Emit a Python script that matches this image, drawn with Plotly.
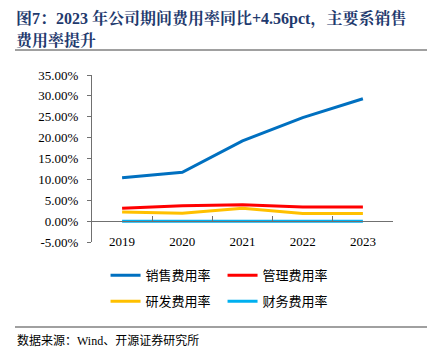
import plotly.graph_objects as go

years = ["2019", "2020", "2021", "2022", "2023"]
sales = [10.4, 11.7, 19.2, 24.8, 29.3]
admin = [3.1, 3.7, 3.9, 3.4, 3.4]
rnd = [2.2, 1.9, 3.1, 1.8, 1.8]
fin = [-0.05, -0.05, 0.0, -0.05, -0.05]

names = ["销售费用率", "管理费用率", "研发费用率", "财务费用率"]
colors = ["#0070C0", "#FF0000", "#FFC000", "#00B0F0"]
series = [sales, admin, rnd, fin]
legends = ["legend", "legend", "legend2", "legend2"]

yticks = [-5, 0, 5, 10, 15, 20, 25, 30, 35]
yticktext = [f"{v:.2f}%" for v in yticks]

title_lines = ["图7：2023 年公司期间费用率同比+4.56pct，主要系销售", "费用率提升"]
source_text = "数据来源：Wind、开源证券研究所"

fig = go.Figure()
for name, vals, c, lg in zip(names, series, colors, legends):
    fig.add_trace(go.Scatter(x=years, y=vals, name=name, mode="lines",
                             line=dict(color=c, width=3), legend=lg))

serif = "Liberation Serif, Times New Roman, Noto Serif CJK SC, Noto Sans CJK SC"
cjk = "Liberation Serif, Noto Sans CJK SC"

fig.update_layout(
    width=429, height=352,
    margin=dict(l=84, r=44, t=67, b=118, autoexpand=False),
    paper_bgcolor="white", plot_bgcolor="white",
    showlegend=True,
    xaxis=dict(type="category", range=[-0.5, 4.5], anchor="free", position=0.125,
               showline=True, linecolor="#707070", linewidth=1,
               ticks="inside", tickson="boundaries", ticklen=5, tickcolor="#707070",
               showgrid=False, zeroline=False, automargin=False,
               tickfont=dict(family=serif, size=13, color="black"),
               ticklabelstandoff=8),
    yaxis=dict(range=[-5, 35], tickvals=yticks, ticktext=yticktext,
               showline=True, linecolor="#707070", linewidth=1,
               ticks="outside", ticklen=4, tickcolor="#707070",
               showgrid=False, zeroline=False, automargin=False,
               tickfont=dict(family=serif, size=13, color="black"),
               ticklabelstandoff=6),
    legend=dict(orientation="h", x=0.045, y=-0.11, xanchor="left", yanchor="top",
                entrywidth=72, entrywidthmode="pixels",
                font=dict(family=cjk, size=13, color="black"),
                bgcolor="rgba(0,0,0,0)"),
    legend2=dict(orientation="h", x=0.045, y=-0.265, xanchor="left", yanchor="top",
                 entrywidth=72, entrywidthmode="pixels",
                 font=dict(family=cjk, size=13, color="black"),
                 bgcolor="rgba(0,0,0,0)"),
)

fig.add_annotation(xref="paper", yref="paper", x=-77/301, y=1 + 67/167,
                   xanchor="left", yanchor="top", align="left", showarrow=False,
                   borderpad=0, text=f"<b>{title_lines[0]}</b>",
                   font=dict(family=serif, size=16, color="#1F3A6E"))
fig.add_annotation(xref="paper", yref="paper", x=-77/301, y=1 + 35/167,
                   xanchor="left", yanchor="middle", align="left", showarrow=False,
                   borderpad=0, text=f"<b>{title_lines[1]}</b>",
                   font=dict(family=serif, size=16, color="#1F3A6E"))
fig.add_annotation(xref="paper", yref="paper", x=-77/301, y=-(340 - 242) / 167,
                   xanchor="left", yanchor="middle", align="left", showarrow=False,
                   text=source_text,
                   font=dict(family=cjk, size=12, color="black"))

fig.add_shape(type="line", xref="paper", yref="paper",
              x0=-77/301, x1=335/301, y0=1 + 25/167, y1=1 + 25/167,
              line=dict(color="#808080", width=1.5))
fig.add_shape(type="line", xref="paper", yref="paper",
              x0=-77/301, x1=335/301, y0=-(327 - 242) / 167, y1=-(327 - 242) / 167,
              line=dict(color="#808080", width=1.5))

fig.write_html("out.html")
